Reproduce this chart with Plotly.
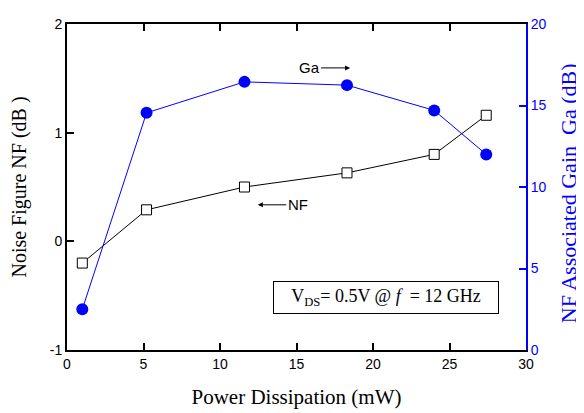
import plotly.graph_objects as go

# Data
power_mw = [1.0, 5.2, 11.6, 18.3, 24.0, 27.4]
nf_db = [-0.2, 0.29, 0.50, 0.63, 0.80, 1.16]
ga_db = [2.5, 14.55, 16.45, 16.25, 14.7, 12.0]

x_ticks = [0, 5, 10, 15, 20, 25, 30]
nf_ticks = [-1, 0, 1, 2]
ga_ticks = [0, 5, 10, 15, 20]

BLUE = "#0000FF"
SANS = "Liberation Sans, Arial, sans-serif"
SERIF = "Liberation Serif, Times New Roman, serif"

fig = go.Figure()

fig.add_trace(go.Scatter(
    x=power_mw, y=nf_db, mode="lines+markers", yaxis="y",
    line=dict(color="black", width=1),
    marker=dict(symbol="square", size=10, color="white",
                line=dict(color="black", width=1)),
    showlegend=False,
))
fig.add_trace(go.Scatter(
    x=power_mw, y=ga_db, mode="lines+markers", yaxis="y2",
    line=dict(color=BLUE, width=1),
    marker=dict(symbol="circle", size=12, color=BLUE),
    showlegend=False,
))

# The page body has an 8px margin, so the figure is sized to fit the window.
fig.update_layout(
    width=576, height=405,
    margin=dict(l=57, r=58, t=8, b=58),
    paper_bgcolor="white", plot_bgcolor="white",
    xaxis=dict(
        range=[0, 30], tickvals=x_ticks, ticktext=[str(v) for v in x_ticks],
        showline=True, linecolor="black", linewidth=2, mirror="ticks",
        ticks="inside", ticklen=7, tickwidth=1.5, tickcolor="black",
        showgrid=False, zeroline=False,
        tickfont=dict(family=SANS, size=14, color="black"),
        title=dict(text="Power Dissipation (mW)", standoff=19,
                   font=dict(family=SERIF, size=21, color="black")),
    ),
    yaxis=dict(
        range=[-1, 2], tickvals=nf_ticks, ticktext=[str(v) for v in nf_ticks],
        showline=True, linecolor="black", linewidth=2,
        ticks="inside", ticklen=7, tickwidth=1.5, tickcolor="black",
        showgrid=False, zeroline=False,
        tickfont=dict(family=SANS, size=14, color="black"),
        title=dict(text="Noise Figure NF (dB )", standoff=20,
                   font=dict(family=SERIF, size=20, color="black")),
    ),
    yaxis2=dict(
        range=[0, 20], tickvals=ga_ticks, ticktext=[str(v) for v in ga_ticks],
        overlaying="y", side="right",
        showline=True, linecolor=BLUE, linewidth=2,
        ticks="inside", ticklen=7, tickwidth=1.5, tickcolor=BLUE,
        showgrid=False, zeroline=False,
        tickfont=dict(family=SANS, size=14, color=BLUE),
    ),
    annotations=[
        dict(text="NF Associated Gain  Ga (dB)", xref="paper", yref="paper",
             x=1.093, y=0.48, xanchor="center", yanchor="middle",
             textangle=-90, showarrow=False,
             font=dict(family=SERIF, size=22, color=BLUE)),
        dict(text="Ga", xref="x", yref="y", x=18.5, y=1.596,
             ax=-41, ay=0, showarrow=True, arrowhead=2, arrowsize=1,
             arrowwidth=1, arrowcolor="black",
             font=dict(family=SANS, size=15, color="black")),
        dict(text="NF", xref="x", yref="y", x=12.47, y=0.336,
             ax=40, ay=0, showarrow=True, arrowhead=2, arrowsize=1,
             arrowwidth=1, arrowcolor="black",
             font=dict(family=SANS, size=15, color="black")),
        dict(text="V<sub>DS</sub>= 0.5V @ <i>f</i>  = 12 GHz",
             xref="x", yref="y", x=20.88, y=-0.513,
             xanchor="center", yanchor="middle", showarrow=False,
             bordercolor="black", borderwidth=1, borderpad=4,
             bgcolor="white", width=216,
             font=dict(family=SERIF, size=18, color="black")),
    ],
)

fig.write_html("out.html")
